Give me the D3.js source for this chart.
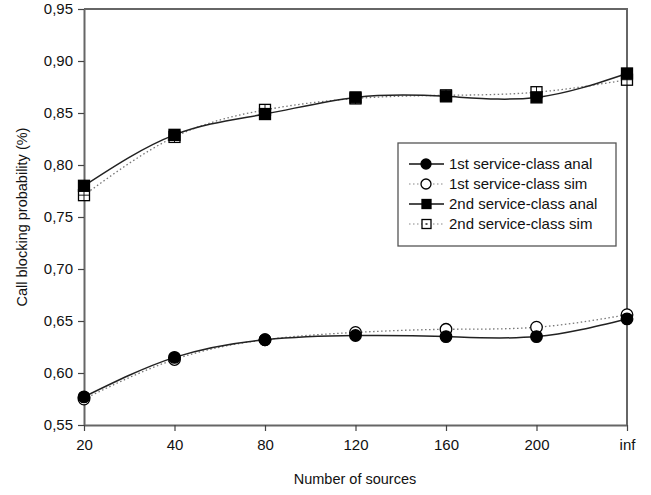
<!DOCTYPE html>
<html>
<head>
<meta charset="utf-8">
<script src="https://cdn.jsdelivr.net/npm/d3@7"></script>
<style>
  body { margin: 0; background: #fff; }
  svg { display: block; font-family: 'Liberation Sans', Arial, sans-serif; }
</style>
</head>
<body>
<div id="chart"></div>
<script>
// categories on the x axis
const sources = ['20', '40', '80', '120', '160', '200', 'inf'];

// series values (blocking probability)
const firstAnal = [0.577, 0.615, 0.632, 0.636, 0.635, 0.635, 0.652];
const firstSim = [0.575, 0.613, 0.632, 0.639, 0.642, 0.644, 0.656];
const secondAnal = [0.780, 0.829, 0.849, 0.865, 0.866, 0.865, 0.888];
const secondSim = [0.771, 0.827, 0.853, 0.864, 0.867, 0.870, 0.882];

const yTicks = [0.55, 0.60, 0.65, 0.70, 0.75, 0.80, 0.85, 0.90, 0.95];

const series = [
  { name: '1st service-class anal', values: firstAnal, marker: 'circle', fill: '#000', dotted: false },
  { name: '1st service-class sim', values: firstSim, marker: 'circle', fill: '#fff', dotted: true },
  { name: '2nd service-class anal', values: secondAnal, marker: 'square', fill: '#000', dotted: false },
  { name: '2nd service-class sim', values: secondSim, marker: 'squareSim', fill: '#fff', dotted: true }
];

const width = 651;
const height = 495;
const margin = { top: 9, right: 24, bottom: 70, left: 84 };
const fontFamily = "'Liberation Sans', Arial, sans-serif";

const svg = d3.select('#chart')
  .append('svg')
  .attr('width', width)
  .attr('height', height);

const x = d3.scalePoint()
  .domain(sources)
  .range([margin.left, width - margin.right]);

const y = d3.scaleLinear()
  .domain([0.55, 0.95])
  .range([height - margin.bottom, margin.top]);

const fmt = (d) => d3.format('.2f')(d).replace('.', ',');

// frame (top and right)
svg.append('path')
  .attr('d', `M${x.range()[0]},${y(0.95)}H${x.range()[1]}V${y(0.55)}`)
  .attr('fill', 'none')
  .attr('stroke', '#666')
  .attr('stroke-width', 2);

// y axis
svg.append('g')
  .attr('transform', `translate(${margin.left},0)`)
  .call(d3.axisLeft(y).tickValues(yTicks).tickFormat(fmt).tickSize(6).tickSizeOuter(0).tickPadding(5))
  .call((g) => g.select('.domain').attr('stroke', '#666').attr('stroke-width', 2))
  .call((g) => g.selectAll('.tick line').attr('stroke', '#444').attr('stroke-width', 1.2))
  .call((g) => g.selectAll('.tick text').attr('font-size', 15).attr('fill', '#111')
    .attr('font-family', fontFamily));

// x axis
svg.append('g')
  .attr('transform', `translate(0,${y(0.55)})`)
  .call(d3.axisBottom(x).tickSize(6).tickSizeOuter(0).tickPadding(8))
  .call((g) => g.select('.domain').attr('stroke', '#666').attr('stroke-width', 2))
  .call((g) => g.selectAll('.tick line').attr('stroke', '#444').attr('stroke-width', 1.2))
  .call((g) => g.selectAll('.tick text').attr('font-size', 15).attr('fill', '#111')
    .attr('font-family', fontFamily));

// axis titles
svg.append('text')
  .attr('x', 355)
  .attr('y', 484)
  .attr('text-anchor', 'middle')
  .attr('font-size', 14.5)
  .attr('fill', '#111')
  .text('Number of sources');

svg.append('text')
  .attr('transform', `translate(27,${(y(0.55) + y(0.95)) / 2}) rotate(-90)`)
  .attr('text-anchor', 'middle')
  .attr('font-size', 14.5)
  .attr('fill', '#111')
  .text('Call blocking probability (%)');

const line = d3.line()
  .x((d, i) => x(sources[i]))
  .y((d) => y(d))
  .curve(d3.curveNatural);

// draw sim (dotted) first, then anal on top
const order = [1, 3, 0, 2];

order.forEach((k) => {
  const s = series[k];
  svg.append('path')
    .attr('d', line(s.values))
    .attr('fill', 'none')
    .attr('stroke', s.dotted ? '#777' : '#222')
    .attr('stroke-width', s.dotted ? 1.3 : 1.5)
    .attr('stroke-dasharray', s.dotted ? '1.5 2.5' : null);
});

function drawMarker(g, type, cx, cy) {
  if (type === 'circle') {
    g.append('circle').attr('cx', cx).attr('cy', cy).attr('r', 5.8);
  } else {
    g.append('rect').attr('x', cx - 5.5).attr('y', cy - 5.5).attr('width', 11).attr('height', 11);
  }
}

order.forEach((k) => {
  const s = series[k];
  const g = svg.append('g')
    .attr('fill', s.fill)
    .attr('stroke', '#000')
    .attr('stroke-width', 1.3);
  s.values.forEach((v, i) => {
    const cx = x(sources[i]);
    const cy = y(v);
    drawMarker(g, s.marker, cx, cy);
    if (s.marker === 'squareSim') {
      g.append('path')
        .attr('d', `M${cx - 5.5},${cy}H${cx + 5.5}M${cx},${cy - 5.5}V${cy + 5.5}`)
        .attr('stroke-width', 0.9);
    }
  });
});

// legend
const lg = svg.append('g').attr('transform', 'translate(398,143)');
lg.append('rect')
  .attr('width', 218)
  .attr('height', 103)
  .attr('fill', '#fff')
  .attr('stroke', '#555')
  .attr('stroke-width', 1.3);

series.forEach((s, i) => {
  const ly = 21 + i * 20;
  lg.append('line')
    .attr('x1', 11).attr('x2', 46)
    .attr('y1', ly).attr('y2', ly)
    .attr('stroke', s.dotted ? '#888' : '#111')
    .attr('stroke-width', s.dotted ? 1.2 : 1.5)
    .attr('stroke-dasharray', s.dotted ? '1.5 2.5' : null);
  const mg = lg.append('g')
    .attr('fill', s.fill)
    .attr('stroke', '#000')
    .attr('stroke-width', 1.3);
  if (s.marker === 'circle') {
    mg.append('circle').attr('cx', 28).attr('cy', ly).attr('r', 5);
  } else {
    mg.append('rect').attr('x', 24).attr('y', ly - 4.5).attr('width', 9).attr('height', 9);
    if (s.marker === 'squareSim') {
      mg.append('rect').attr('x', 27.5).attr('y', ly - 1).attr('width', 2).attr('height', 2)
        .attr('fill', '#555').attr('stroke', 'none');
    }
  }
  lg.append('text')
    .attr('x', 51)
    .attr('y', ly)
    .attr('dy', '0.35em')
    .attr('font-size', 15)
    .attr('fill', '#111')
    .text(s.name);
});
</script>
</body>
</html>
